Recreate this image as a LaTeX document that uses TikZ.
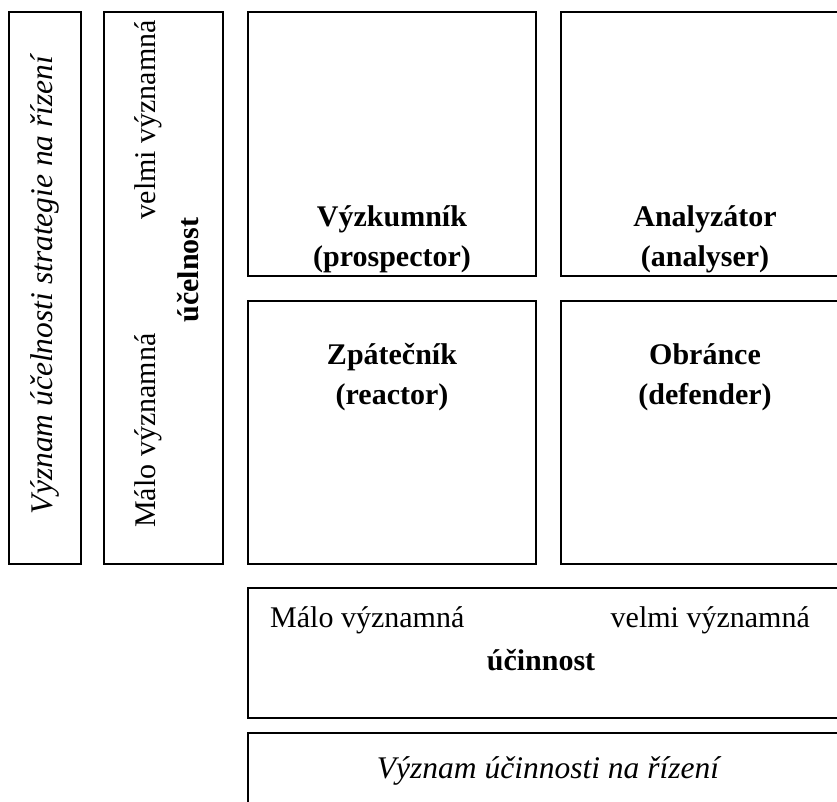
\documentclass[tikz,border=0pt]{standalone}
\usepackage{fontspec}
\setmainfont{Liberation Serif}
\begin{document}
\begin{tikzpicture}[x=1pt,y=-1pt,
  frame/.style={draw=black, line width=1.6pt, fill=white, inner sep=0pt},
  lbl/.style={inner sep=0pt, font=\fontsize{30}{34}\selectfont},
  slanted/.style={inner sep=0pt, font=\fontsize{31.5}{36}\selectfont\itshape},
  typebox/.style={inner sep=0pt, align=center, font=\fontsize{30}{40}\selectfont\bfseries}
]
\clip (0,0) rectangle (837,802);
\fill[white] (0,0) rectangle (837,802);

% side frames (vertical axis)
\node[frame, minimum width=72pt, minimum height=552pt] (axisA) at (45,288) {};
\node[frame, minimum width=119pt, minimum height=552pt] (axisB) at (163.5,288) {};

% strategy quadrants
\node[frame, minimum width=288pt, minimum height=264pt] (qTL) at (392,144) {};
\node[frame, minimum width=288pt, minimum height=264pt] (qTR) at (705,144) {};
\node[frame, minimum width=288pt, minimum height=263pt] (qBL) at (392,432.5) {};
\node[frame, minimum width=288pt, minimum height=263pt] (qBR) at (705,432.5) {};

% bottom frames (horizontal axis)
\node[frame, minimum width=601pt, minimum height=130pt] (axisC) at (548.5,653) {};
\node[frame, minimum width=601pt, minimum height=130pt] (axisD) at (548.5,798) {};

% vertical axis labels
\node[slanted, rotate=90] (tA) at (45,285) {Význam účelnosti strategie na řízení};
\node[lbl, rotate=90, anchor=west] (tBlow) at (148,528) {Málo významná};
\node[lbl, rotate=90, anchor=east] (tBhigh) at (148,20) {velmi významná};
\node[lbl, rotate=90, font=\fontsize{30}{34}\selectfont\bfseries] (tBname) at (188,270) {účelnost};

% quadrant labels
\node[typebox] (tTL) at (392,239) {Výzkumník\\(prospector)};
\node[typebox] (tTR) at (705,239) {Analyzátor\\(analyser)};
\node[typebox] (tBL) at (392,377) {Zpátečník\\(reactor)};
\node[typebox] (tBR) at (705,377) {Obránce\\(defender)};

% horizontal axis labels
\node[lbl, anchor=west] (tClow) at (270,620) {Málo významná};
\node[lbl, anchor=east] (tChigh) at (810,620) {velmi významná};
\node[lbl, font=\fontsize{30}{34}\selectfont\bfseries] (tCname) at (541,660) {účinnost};
\node[slanted] (tD) at (548,771) {Význam účinnosti na řízení};
\end{tikzpicture}
\end{document}
